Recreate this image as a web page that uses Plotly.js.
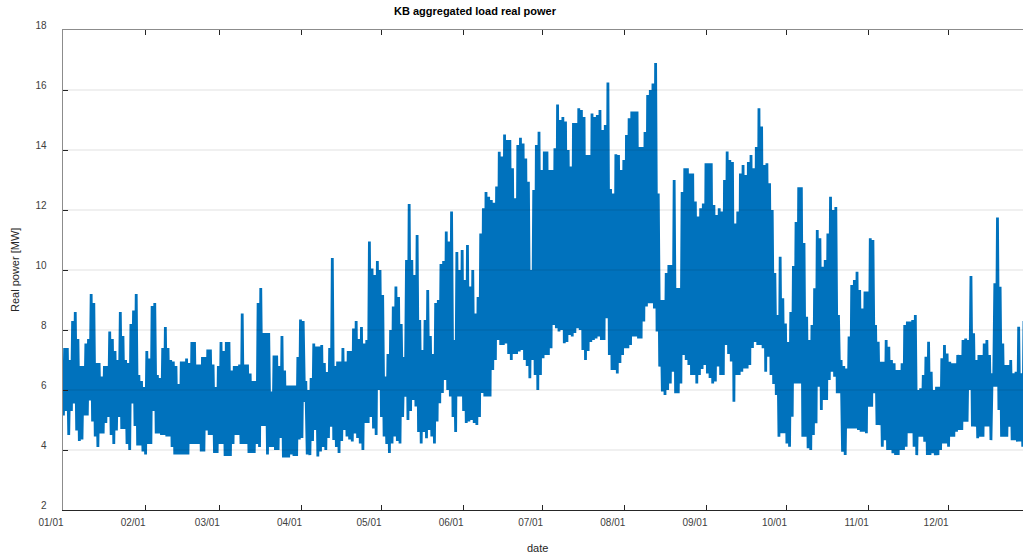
<!DOCTYPE html>
<html>
<head>
<meta charset="utf-8">
<script src="https://cdn.plot.ly/plotly-3.0.1.min.js"></script>
<style>
  html, body { margin: 0; padding: 0; background: #ffffff; }
  #chart { width: 1023px; height: 557px; }
</style>
</head>
<body>
<div id="chart"></div>
<script>
// ---- data ----
const year = 2019;
// daily maximum real power [MW], day 0 = 01/01
const dailyMax = [
  7.4, 7.4, 7.0, 8.3, 8.6, 7.7, 6.8, 6.8, 7.55, 7.7,
  9.2, 8.9, 6.9, 6.9, 6.45, 6.8, 6.8, 7.95, 7.7, 7.3,
  7.0, 8.6, 7.8, 7.0, 6.9, 8.2, 8.65, 9.2, 6.5, 6.3,
  6.1, 7.3, 7.05, 8.8, 8.9, 6.5, 6.4, 7.4, 8.1, 7.4,
  7.0, 6.95, 6.8, 6.2, 6.95, 6.95, 7.05, 6.9, 7.6, 7.6,
  6.85, 6.85, 7.1, 7.1, 7.35, 7.35, 6.85, 6.1, 6.8, 7.6,
  7.3, 7.6, 7.6, 6.65, 6.8, 6.8, 6.85, 8.55, 6.85, 6.85,
  6.55, 6.3, 6.3, 8.9, 9.4, 7.9, 7.9, 7.9, 5.95, 7.15,
  7.15, 6.8, 7.8, 6.65, 6.15, 6.15, 6.15, 6.15, 7.1, 8.35,
  8.3, 6.3, 6.0, 6.4, 7.55, 7.45, 7.45, 7.5, 6.9, 6.6,
  7.4, 10.4, 6.8, 6.95, 6.95, 7.4, 6.95, 7.3, 7.3, 8.05,
  8.3, 7.7, 8.1, 7.55, 7.67, 10.95, 10.05, 9.83, 10.3, 10.0,
  9.17, 6.45, 7.2, 8.0, 8.78, 9.45, 9.1, 8.2, 7.1, 10.33,
  12.2, 10.33, 9.83, 11.17, 8.33, 7.33, 8.33, 9.33, 7.8, 7.2,
  8.9, 9.0, 10.2, 10.3, 11.28, 10.95, 11.95, 7.67, 10.6, 10.0,
  10.67, 9.67, 10.83, 9.45, 10.0, 8.55, 9.1, 11.22, 12.06, 12.6,
  12.44, 12.33, 12.24, 12.78, 13.94, 13.78, 14.52, 14.33, 14.33, 13.39,
  12.39, 14.17, 14.41, 14.22, 13.72, 12.94, 10.0, 12.67, 14.17, 14.61,
  13.33, 13.95, 13.95, 13.33, 13.33, 14.06, 15.52, 15.0, 15.1, 14.95,
  14.0, 13.45, 14.9, 14.9, 15.39, 15.33, 15.1, 13.83, 13.83, 15.22,
  15.1, 15.17, 15.33, 14.67, 14.83, 16.25, 12.7, 12.55, 13.86, 13.83,
  13.33, 13.67, 14.5, 15.06, 15.28, 15.28, 15.28, 14.1, 14.1, 14.6,
  15.83, 16.0, 16.22, 16.9, 12.55, 9.0, 9.0, 9.9, 10.17, 10.17,
  13.0, 9.4, 9.4, 12.6, 13.39, 13.39, 13.22, 13.22, 12.28, 11.78,
  12.06, 12.22, 13.56, 13.56, 13.56, 12.17, 11.83, 12.06, 11.95, 13.0,
  13.95, 13.67, 13.6, 11.55, 11.95, 13.22, 13.5, 13.17, 13.6, 13.83,
  13.39, 14.1, 15.39, 14.78, 13.5, 13.56, 12.89, 12.0, 9.9, 8.5,
  10.44, 9.06, 8.22, 7.6, 8.6, 10.13, 11.6, 12.76, 12.76, 10.9,
  8.44, 7.67, 8.17, 9.39, 11.33, 11.06, 10.11, 10.33, 11.22, 12.44,
  12.0, 12.1, 8.5, 7.0, 6.8, 6.72, 7.78, 9.5, 9.67, 9.94,
  9.33, 8.72, 9.28, 9.28, 11.06, 11.0, 8.17, 7.61, 6.94, 6.94,
  7.67, 7.44, 7.0, 6.89, 6.67, 6.67, 6.89, 8.17, 8.28, 8.28,
  8.33, 8.5, 6.0, 6.06, 6.5, 7.11, 7.61, 6.61, 6.0, 6.11,
  6.11, 7.06, 7.5, 7.22, 6.94, 6.89, 6.89, 7.17, 7.17, 7.67,
  7.72, 7.67, 9.8, 7.89, 7.0, 7.17, 7.17, 7.55, 7.67, 7.17,
  6.56, 9.56, 11.75, 9.44, 7.55, 6.83, 6.83, 7.0, 6.56, 6.61,
  8.11, 6.56, 8.3
];
// daily minimum real power [MW], day 0 = 01/01
const dailyMin = [
  5.15, 5.3, 4.5, 5.3, 5.55, 4.65, 4.3, 4.35, 5.15, 5.15,
  5.65, 4.95, 4.45, 4.1, 4.55, 4.55, 4.9, 5.1, 4.5, 4.2,
  4.65, 5.1, 4.7, 4.7, 4.2, 4.0, 5.55, 4.8, 4.15, 4.15,
  3.95, 3.85, 4.2, 4.2, 5.3, 4.55, 4.55, 4.5, 4.5, 4.45,
  4.45, 4.1, 3.85, 3.85, 3.85, 3.85, 3.85, 3.85, 4.2, 4.2,
  4.2, 4.2, 3.95, 3.95, 4.65, 4.5, 4.5, 3.9, 3.9, 4.2,
  4.2, 3.8, 3.8, 3.8, 4.2, 4.5, 4.5, 4.2, 4.2, 4.2,
  3.9, 3.9, 3.9, 4.2, 4.1, 4.8, 4.8, 3.85, 4.1, 4.1,
  4.0, 4.0, 4.4, 3.75, 3.75, 3.75, 3.85, 3.8, 3.8, 4.35,
  4.4, 5.6, 3.85, 3.83, 4.3, 4.67, 3.78, 3.95, 4.1, 4.0,
  4.4, 4.78, 4.33, 4.1, 3.9, 4.3, 4.67, 4.45, 4.35, 4.28,
  4.55, 4.4, 4.22, 4.0, 4.9, 4.9, 5.1, 4.72, 4.5, 6.0,
  5.1, 4.45, 4.2, 3.9, 4.22, 4.45, 4.3, 4.22, 5.1, 5.78,
  5.0, 5.3, 5.67, 5.45, 4.6, 4.22, 4.6, 4.39, 4.67, 4.45,
  4.22, 4.95, 5.56, 5.9, 6.33, 6.0, 5.78, 5.1, 4.6, 5.78,
  5.78, 5.3, 4.9, 4.95, 5.0, 4.9, 4.83, 5.1, 5.9, 5.78,
  5.78, 5.78, 6.67, 7.0, 7.67, 7.5, 7.5, 7.55, 7.2, 7.0,
  7.2, 7.2, 7.28, 7.33, 7.0, 6.8, 6.39, 7.0, 6.5, 6.0,
  6.5, 7.06, 7.17, 7.17, 7.39, 8.17, 8.06, 7.95, 8.0, 7.56,
  7.6, 7.83, 7.78, 7.9, 8.06, 8.0, 7.33, 7.0, 7.3, 7.6,
  7.67, 7.72, 7.78, 7.67, 7.67, 8.39, 7.17, 6.67, 6.67, 6.55,
  6.9, 7.17, 7.39, 7.39, 7.5, 7.78, 7.78, 7.72, 7.72, 8.28,
  8.78, 8.89, 8.89, 8.72, 7.95, 6.78, 5.95, 5.83, 6.0, 6.22,
  6.61, 5.89, 5.89, 6.22, 7.17, 7.0, 6.83, 6.5, 6.5, 6.22,
  6.5, 6.7, 6.83, 6.55, 6.4, 6.22, 6.28, 6.78, 6.5, 6.5,
  7.5, 7.2, 6.95, 5.61, 6.5, 6.5, 6.61, 6.72, 6.72, 6.83,
  7.4, 7.6, 7.5, 7.5, 7.39, 6.61, 7.11, 6.5, 6.2, 5.83,
  4.44, 4.56, 4.56, 4.22, 4.11, 5.11, 6.22, 6.22, 6.22, 4.44,
  4.44, 4.06, 4.0, 4.5, 4.89, 6.11, 5.33, 5.67, 5.67, 6.33,
  6.61, 6.44, 5.89, 5.89, 3.94, 3.83, 4.72, 4.72, 4.72, 4.72,
  4.67, 4.61, 4.61, 4.56, 5.44, 5.44, 5.89, 4.83, 4.83, 4.11,
  4.33, 4.0, 4.0, 3.89, 3.83, 3.83, 4.0, 4.0, 4.11, 4.56,
  4.56, 4.11, 3.83, 4.44, 4.44, 4.28, 3.83, 3.83, 3.89, 3.83,
  3.83, 4.0, 4.22, 4.22, 4.11, 4.44, 4.44, 4.61, 4.67, 4.67,
  4.94, 4.94, 6.0, 4.78, 4.78, 4.39, 4.44, 4.44, 4.78, 4.78,
  4.33, 6.11, 6.11, 5.33, 4.44, 4.44, 4.44, 4.78, 4.33, 4.33,
  4.28, 4.28, 4.11
];
const minHour = 4;    // hour of day of the daily minimum
const maxHour = 15;   // hour of day of the daily maximum
const yTicks = [2, 4, 6, 8, 10, 12, 14, 16, 18];
const titleText = 'KB aggregated load real power';
const xTitleText = 'date';
const yTitleText = 'Real power [MW]';

// ---- build the series (min then max each day) ----
function stamp(dayFloat) {
  const ms = Date.UTC(year, 0, 1) + dayFloat * 86400000;
  return new Date(ms).toISOString().slice(0, 19).replace('T', ' ');
}
const xs = [], ys = [];
for (let d = 0; d < dailyMax.length; d++) {
  xs.push(stamp(d + minHour / 24)); ys.push(dailyMin[d]);
  xs.push(stamp(d + maxHour / 24)); ys.push(dailyMax[d]);
}
const xStart = stamp(0);
const xEnd = stamp(362.26);

const tickFont = { family: 'Liberation Sans, Arial, Helvetica, sans-serif', size: 10, color: '#404040' };

const trace = {
  type: 'scatter', mode: 'lines',
  x: xs, y: ys,
  line: { color: '#0072BD', width: 2.8, shape: 'linear' },
  hoverinfo: 'skip', showlegend: false
};
const topAxisTrace = { type: 'scatter', x: [], y: [], xaxis: 'x2', yaxis: 'y', showlegend: false, hoverinfo: 'skip' };

const gridShapes = yTicks.slice(1, -1).map(v => ({
  type: 'line', xref: 'paper', yref: 'y', x0: 0, x1: 1, y0: v, y1: v,
  line: { color: 'rgba(0,0,0,0.12)', width: 1 }, layer: 'above'
}));

const layout = {
  width: 1023, height: 557,
  margin: { l: 63, r: 0, t: 30, b: 47, pad: 0 },
  paper_bgcolor: '#ffffff', plot_bgcolor: '#ffffff',
  font: { family: 'Liberation Sans, Arial, Helvetica, sans-serif', color: '#262626' },
  showlegend: false,
  xaxis: {
    type: 'date', range: [xStart, xEnd],
    tick0: xStart, dtick: 'M1', tickformat: '%m/%d',
    ticks: 'inside', ticklen: 5, tickwidth: 1, tickcolor: '#262626',
    showline: true, linecolor: '#262626', linewidth: 1,
    showgrid: false, zeroline: false,
    tickfont: tickFont, ticklabelshift: -12, ticklabelstandoff: 3,
    layer: 'above traces', fixedrange: true
  },
  xaxis2: {
    type: 'date', overlaying: 'x', matches: 'x', side: 'top', anchor: 'y',
    range: [xStart, xEnd], tick0: xStart, dtick: 'M1',
    ticks: 'inside', ticklen: 5, tickwidth: 1, tickcolor: '#262626',
    showline: true, linecolor: '#8c8c8c', linewidth: 1,
    showgrid: false, zeroline: false, showticklabels: false,
    layer: 'above traces', fixedrange: true
  },
  yaxis: {
    range: [2, 18], tickvals: yTicks,
    ticks: 'inside', ticklen: 5, tickwidth: 1, tickcolor: '#262626',
    showline: true, linecolor: '#8c8c8c', linewidth: 1.5,
    showgrid: false, zeroline: false,
    tickfont: tickFont, ticklabelshift: -5, ticklabelstandoff: 13,
    layer: 'above traces', fixedrange: true
  },
  shapes: gridShapes,
  annotations: [
    { text: '<b>' + titleText + '</b>', xref: 'paper', yref: 'paper',
      x: (475 - 63) / 960, y: 1, yshift: 19, showarrow: false,
      xanchor: 'center', yanchor: 'middle',
      font: { family: 'Liberation Sans, Arial, Helvetica, sans-serif', size: 11, color: '#000000' } },
    { text: xTitleText, xref: 'paper', yref: 'paper',
      x: (537 - 63) / 960, y: 0, yshift: -38, showarrow: false,
      xanchor: 'center', yanchor: 'middle',
      font: { family: 'Liberation Sans, Arial, Helvetica, sans-serif', size: 11, color: '#262626' } },
    { text: yTitleText, xref: 'paper', yref: 'paper',
      x: 0, xshift: -48, y: (510 - 270) / 480, showarrow: false, textangle: -90,
      xanchor: 'center', yanchor: 'middle',
      font: { family: 'Liberation Sans, Arial, Helvetica, sans-serif', size: 11, color: '#262626' } }
  ]
};

Plotly.newPlot('chart', [trace, topAxisTrace], layout, { staticPlot: true, displayModeBar: false });
</script>
</body>
</html>
